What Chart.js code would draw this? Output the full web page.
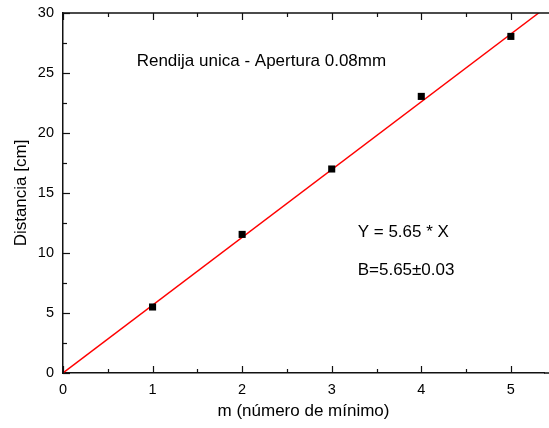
<!DOCTYPE html>
<html><head><meta charset="utf-8">
<script src="https://cdn.jsdelivr.net/npm/chart.js@4"></script>
<style>html,body{margin:0;padding:0;background:#fff}#wrap{width:549px;height:428px}</style>
</head><body><div id="wrap"><canvas id="c" width="549" height="428"></canvas></div>
<script>
const mValues = [1, 2, 3, 4, 5];
const distValues = [5.5, 11.55, 17.0, 23.05, 28.05];
const slope = 5.65;
const fitX = [0, 5.42];
const xTickLabels = ['0','1','2','3','4','5'];
const yTickLabels = ['0','5','10','15','20','25','30'];
const title = 'Rendija unica - Apertura 0.08mm';
const eqText = 'Y = 5.65 * X';
const bText = 'B=5.65\u00b10.03';

const FONT = '"Liberation Sans", Arial, sans-serif';

const framePlugin = {
  id: 'frame',
  afterDraw(chart) {
    const {ctx, chartArea: a, scales: {x, y}} = chart;
    ctx.save();
    ctx.strokeStyle = '#111';
    ctx.lineWidth = 1.5;
    ctx.beginPath();
    ctx.moveTo(a.left, a.top); ctx.lineTo(chart.width, a.top);
    ctx.moveTo(a.right, a.bottom); ctx.lineTo(chart.width, a.bottom);
    ctx.stroke();
    ctx.lineWidth = 1.2;
    for (let v = 0; v <= 5.4; v += 0.5) {
      const px = Math.round(x.getPixelForValue(v)) + 0.5;
      const len = (Math.abs(v - Math.round(v)) < 1e-6) ? 7 : 4;
      ctx.beginPath();
      ctx.moveTo(px, a.bottom); ctx.lineTo(px, a.bottom - len);
      ctx.moveTo(px, a.top); ctx.lineTo(px, a.top + len);
      ctx.stroke();
    }
    for (let v = 0; v <= 30; v += 2.5) {
      const py = Math.round(y.getPixelForValue(v)) + 0.5;
      const len = (Math.abs(v / 5 - Math.round(v / 5)) < 1e-6) ? 7 : 4;
      ctx.beginPath();
      ctx.moveTo(a.left, py); ctx.lineTo(a.left + len, py);
      ctx.stroke();
    }
    ctx.fillStyle = '#000';
    ctx.font = '17px ' + FONT;
    ctx.textBaseline = 'middle';
    ctx.textAlign = 'center';
    ctx.fillText(title, x.getPixelForValue(2.215), y.getPixelForValue(26.0));
    ctx.textAlign = 'left';
    ctx.fillText(eqText, x.getPixelForValue(3.29), y.getPixelForValue(11.75));
    ctx.fillText(bText, x.getPixelForValue(3.29), y.getPixelForValue(8.55));
    ctx.restore();
  }
};

new Chart(document.getElementById('c'), {
  type: 'scatter',
  data: {
    datasets: [
      {
        type: 'line',
        data: fitX.map(v => ({x: v, y: slope * v})),
        borderColor: '#ff0000',
        borderWidth: 1.4,
        pointRadius: 0,
        fill: false,
        order: 2
      },
      {
        data: mValues.map((m, i) => ({x: m, y: distValues[i]})),
        pointStyle: 'rect',
        pointRadius: 5,
        backgroundColor: '#000',
        borderColor: '#000',
        borderWidth: 0,
        order: 1
      }
    ]
  },
  options: {
    responsive: false,
    animation: false,
    devicePixelRatio: 1,
    layout: {padding: {top: 13, right: 0, left: 0, bottom: 0}},
    plugins: {legend: {display: false}, tooltip: {enabled: false}},
    scales: {
      x: {
        type: 'linear', min: 0, max: 5.37,
        afterFit(s) { s.height = 55; },
        grid: {display: false, drawTicks: false},
        border: {display: true, color: '#111', width: 1.5},
        afterBuildTicks(s) { s.ticks = xTickLabels.map(t => ({value: Number(t)})); },
        ticks: {color: '#000', font: {family: FONT, size: 14.5}, padding: 8,
                callback: (v) => xTickLabels.includes(String(v)) ? String(v) : ''},
        title: {display: true, text: 'm (n\u00famero de m\u00ednimo)', color: '#000',
                font: {family: FONT, size: 17}, padding: {top: 2, bottom: 6}}
      },
      y: {
        type: 'linear', min: 0, max: 30,
        afterFit(s) { s.width = 63; s.paddingTop = 0; s.paddingBottom = 0; },
        grid: {display: false, drawTicks: false},
        border: {display: true, color: '#111', width: 1.5},
        afterBuildTicks(s) { s.ticks = yTickLabels.map(t => ({value: Number(t)})); },
        ticks: {color: '#000', font: {family: FONT, size: 14.5}, padding: 9,
                callback: (v) => String(v)},
        title: {display: true, text: 'Distancia [cm]', color: '#000',
                font: {family: FONT, size: 17}, padding: {top: 11, bottom: 4}}
      }
    }
  },
  plugins: [framePlugin]
});
</script></body></html>
